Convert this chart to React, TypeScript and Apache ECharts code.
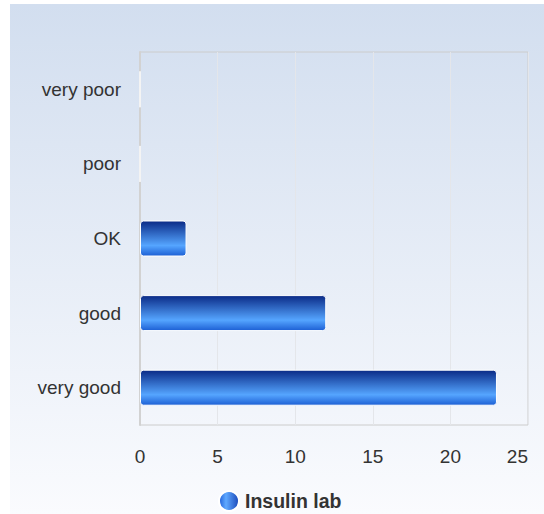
import React, { useEffect, useRef } from "react";
import * as echarts from "echarts";

const categories = ["very good", "good", "OK", "poor", "very poor"];
const seriesName = "Insulin lab";
const values = [23, 12, 3, 0, 0];
const xTicks = { min: 0, max: 25, interval: 5 };

export default function App() {
  const ref = useRef<HTMLDivElement>(null);
  useEffect(() => {
    if (!ref.current) return;
    const chart = echarts.init(ref.current, null, { renderer: "svg" });
    const barGradient = new echarts.graphic.LinearGradient(0, 0, 0, 1, [
      { offset: 0, color: "#0a2a86" },
      { offset: 0.7, color: "#55a5ff" },
      { offset: 1, color: "#1c5fd4" },
    ]);
    const iconGradient = new echarts.graphic.LinearGradient(0, 0, 1, 0, [
      { offset: 0, color: "#1f5fd8" },
      { offset: 0.35, color: "#5fa9ff" },
      { offset: 1, color: "#1846b8" },
    ]);
    chart.setOption({
      animation: false,
      backgroundColor: new echarts.graphic.LinearGradient(0, 0, 0, 1, [
        { offset: 0, color: "#d2deef" },
        { offset: 1, color: "#fafbfe" },
      ]),
      textStyle: { fontFamily: "Liberation Sans, Arial, sans-serif" },
      grid: {
        left: 130,
        top: 48,
        right: 16,
        bottom: 89,
        show: true,
        borderColor: "#cccccc",
        borderWidth: 1,
        backgroundColor: "transparent",
      },
      legend: {
        show: true,
        left: 208,
        top: 486,
        padding: 0,
        itemWidth: 20,
        itemHeight: 20,
        itemGap: 10,
        data: [{ name: seriesName, icon: "circle", itemStyle: { color: iconGradient } }],
        textStyle: { fontSize: 19.5, fontWeight: "bold", color: "#333333", padding: [2, 0, 0, 1] },
      },
      xAxis: {
        type: "value",
        min: xTicks.min,
        max: xTicks.max,
        interval: xTicks.interval,
        axisLine: { show: false },
        axisTick: { show: false },
        splitLine: { show: true, lineStyle: { color: "#e4e6ea", width: 1 } },
        axisLabel: { fontSize: 19, color: "#333333", margin: 22, alignMaxLabel: "right" },
      },
      yAxis: {
        type: "category",
        data: categories,
        axisLine: { show: true, lineStyle: { color: "#d2d2d2", width: 2 } },
        axisTick: { show: false },
        splitLine: { show: false },
        axisLabel: { fontSize: 19, color: "#333333", margin: 19, padding: [4, 0, 0, 0] },
      },
      series: [
        {
          name: seriesName,
          type: "bar",
          data: values,
          barWidth: 36,
          itemStyle: {
            color: barGradient,
            borderColor: "#ffffff",
            borderWidth: 1,
            borderRadius: 3,
          },
        },
      ],
    });
    return () => chart.dispose();
  }, []);
  return (
    <div
      ref={ref}
      style={{ position: "absolute", left: 10, top: 4, width: 534, height: 510 }}
    />
  );
}
